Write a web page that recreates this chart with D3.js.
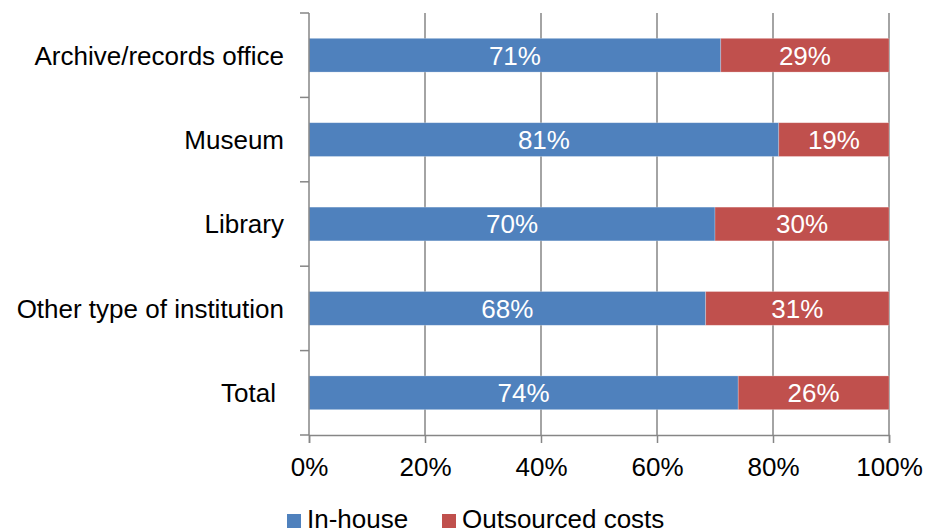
<!DOCTYPE html>
<html>
<head>
<meta charset="utf-8">
<script src="https://cdn.jsdelivr.net/npm/d3@7"></script>
<style>
  html, body { margin: 0; padding: 0; background: #fff; }
  svg { display: block; font-family: Arial, "Liberation Sans", sans-serif; }
</style>
</head>
<body>
<svg id="chart"></svg>
<script>
// ── Data ─────────────────────────────────────────────
const categories = ['Archive/records office', 'Museum', 'Library', 'Other type of institution', 'Total'];
const inHouse    = [71, 81, 70, 68.4, 74];
const outsourced = [29, 19, 30, 31.4, 26];
const seriesNames = ['In-house', 'Outsourced costs'];
const xTicks     = [0, 20, 40, 60, 80, 100];

const COLORS = ['#4F81BD', '#C0504D'];
const AXIS   = '#868686';
const FS     = 26;

// ── Layout ───────────────────────────────────────────
const W = 928, H = 530;
const margin = { top: 13, right: 39, bottom: 95, left: 309 };
const iW = W - margin.left - margin.right;
const iH = H - margin.top - margin.bottom;

const svg = d3.select('#chart').attr('width', W).attr('height', H);
const g = svg.append('g').attr('transform', `translate(${margin.left},${margin.top})`);

const x = d3.scaleLinear().domain([0, 100]).range([0, iW]);
const y = d3.scaleBand().domain(categories).range([0, iH]).padding(0);
const barH = y.bandwidth() * 0.4;

// ── Grid lines ───────────────────────────────────────
g.append('g')
  .selectAll('line')
  .data(xTicks.slice(1))
  .join('line')
    .attr('x1', d => x(d)).attr('x2', d => x(d))
    .attr('y1', 0).attr('y2', iH)
    .attr('stroke', AXIS).attr('stroke-width', 1.5);

// ── Bars ─────────────────────────────────────────────
const rows = categories.map((c, i) => ({ cat: c, vals: [inHouse[i], outsourced[i]] }));

rows.forEach(r => {
  let x0 = 0;
  const y0 = y(r.cat) + (y.bandwidth() - barH) / 2;
  r.vals.forEach((v, k) => {
    // last segment is drawn to the 100% line
    const x1 = k === r.vals.length - 1 ? 100 : x0 + v;
    g.append('rect')
      .attr('x', x(x0)).attr('y', y0)
      .attr('width', x(x1) - x(x0)).attr('height', barH)
      .attr('fill', COLORS[k])
      .attr('stroke', 'rgba(255,255,255,0.35)').attr('stroke-width', 0.7);
    g.append('text')
      .attr('x', x((x0 + x1) / 2)).attr('y', y0 + barH / 2)
      .attr('dy', '0.36em')
      .attr('text-anchor', 'middle')
      .attr('fill', '#fff').attr('font-size', FS)
      .text(Math.round(v) + '%');
    x0 = x1;
  });
});

// ── Axes ─────────────────────────────────────────────
// y axis with ticks at category boundaries
g.append('line')
  .attr('x1', 0).attr('x2', 0).attr('y1', 0).attr('y2', iH)
  .attr('stroke', AXIS).attr('stroke-width', 1.5);
g.append('g')
  .selectAll('line')
  .data(d3.range(categories.length + 1))
  .join('line')
    .attr('x1', -9).attr('x2', 0)
    .attr('y1', i => i * y.step()).attr('y2', i => i * y.step())
    .attr('stroke', AXIS).attr('stroke-width', 1.5);

g.append('g')
  .selectAll('text')
  .data(categories)
  .join('text')
    .attr('x', -25).attr('y', d => y(d) + y.bandwidth() / 2)
    .attr('dy', '0.36em')
    .attr('text-anchor', 'end')
    .attr('fill', '#000').attr('font-size', FS)
    .attr('transform', d => d === 'Total' ? 'translate(-8,0)' : null)
    .text(d => d);

// x axis
const xAxis = g.append('g')
  .attr('transform', `translate(0,${iH})`)
  .call(d3.axisBottom(x).tickValues(xTicks).tickSize(8).tickPadding(15).tickFormat(d => d + '%'));
xAxis.select('.domain').attr('stroke', AXIS).attr('stroke-width', 1.5);
xAxis.selectAll('.tick line').attr('stroke', AXIS).attr('stroke-width', 1.5);
xAxis.selectAll('text').attr('fill', '#000').attr('font-size', FS)
  .attr('font-family', 'Arial, "Liberation Sans", sans-serif');

// ── Legend ───────────────────────────────────────────
const legendX = [287, 442];
const legend = svg.append('g');
seriesNames.forEach((name, k) => {
  legend.append('rect')
    .attr('x', legendX[k]).attr('y', 514)
    .attr('width', 14).attr('height', 14)
    .attr('fill', COLORS[k]);
  legend.append('text')
    .attr('x', legendX[k] + 20).attr('y', 528)
    .attr('fill', '#000').attr('font-size', FS)
    .text(name);
});
</script>
</body>
</html>
